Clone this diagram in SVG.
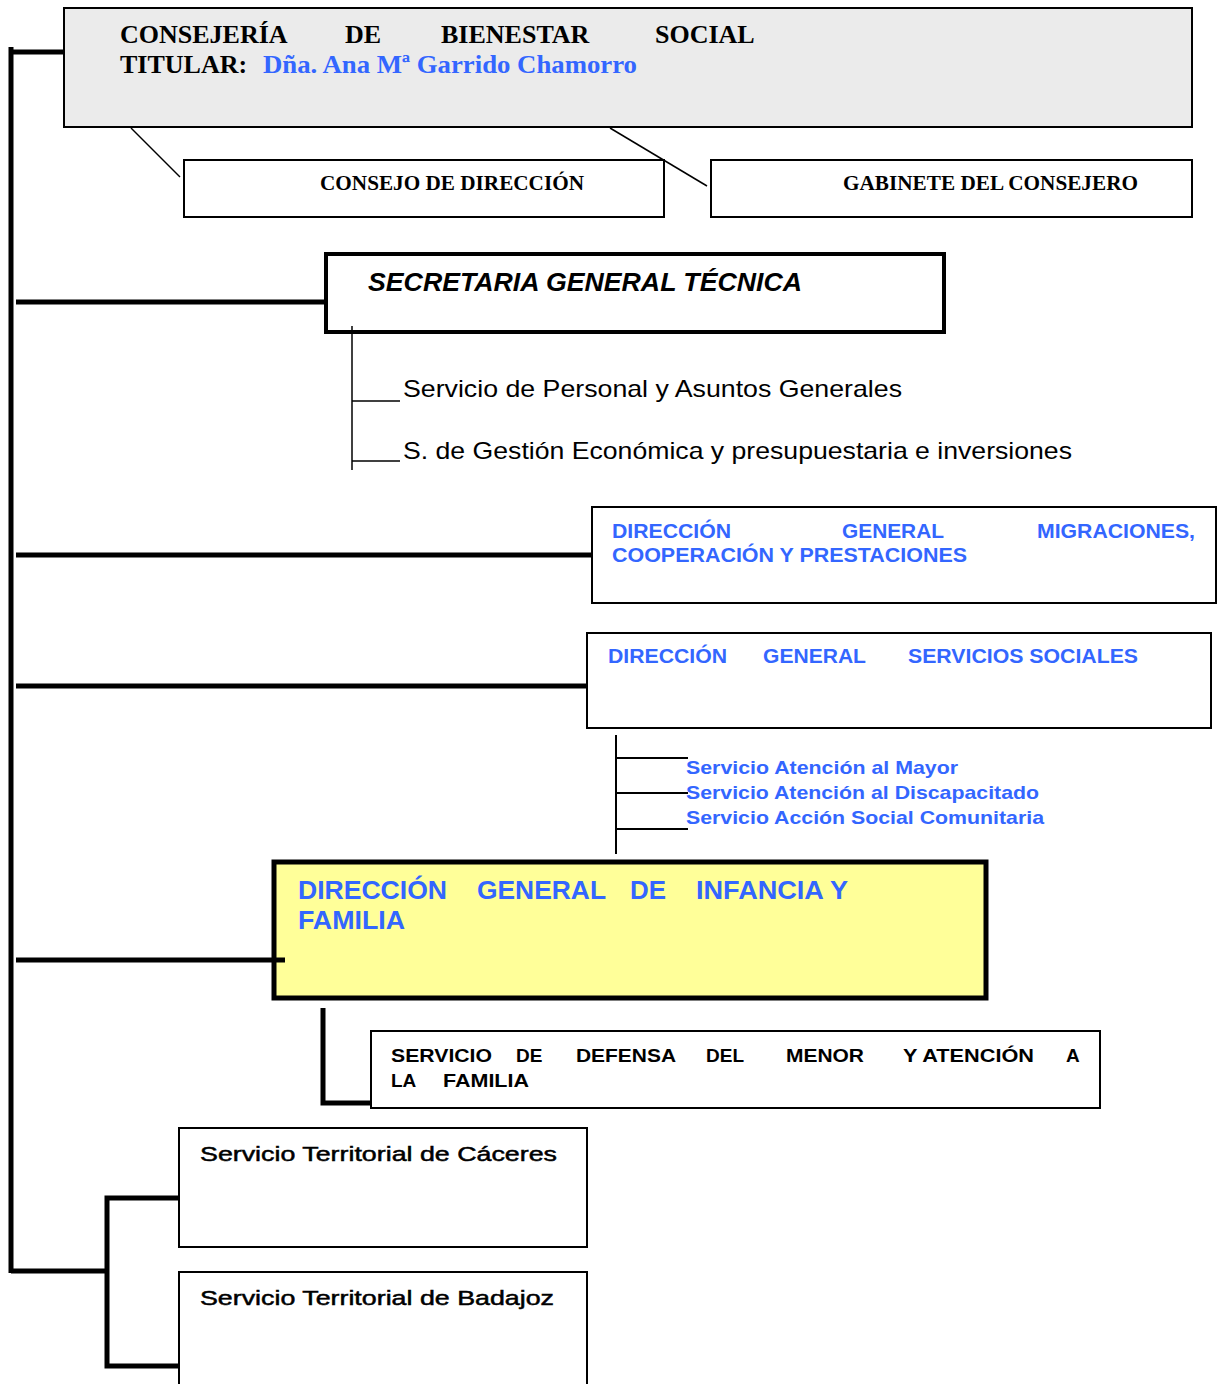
<svg xmlns="http://www.w3.org/2000/svg" width="1220" height="1384" viewBox="0 0 1220 1384">
<style>
.box{fill:#fff;stroke:#000;stroke-width:2}
.thick{fill:none;stroke:#000;stroke-width:5}
.thin{fill:none;stroke:#000;stroke-width:1.5}
.tb{font-family:"Liberation Serif",serif;font-weight:bold;fill:#000}
.ab{font-family:"Liberation Sans",Arial,sans-serif;font-weight:bold}
.ar{font-family:"Liberation Sans",Arial,sans-serif}
.blue{fill:#3366ff}
.blk{fill:#000}
.terr{stroke:#000;stroke-width:0.5}
</style>
<rect width="1220" height="1384" fill="#fff"/>
<g id="consejeria">
<rect x="64" y="8" width="1128" height="119" fill="#ebebeb" stroke="#000" stroke-width="2"/>
<text class="tb" font-size="26" x="120" y="43">CONSEJERÍA</text>
<text class="tb" font-size="26" x="345" y="43">DE</text>
<text class="tb" font-size="26" x="441" y="43">BIENESTAR</text>
<text class="tb" font-size="26" x="655" y="43">SOCIAL</text>
<text class="tb" font-size="26" x="120" y="73">TITULAR:</text>
<text class="tb" font-size="26" x="263" y="73" style="fill:#3366ff" textLength="374" lengthAdjust="spacingAndGlyphs">Dña. Ana Mª Garrido Chamorro</text>
</g>
<g id="consejo">
<rect class="box" x="184" y="160" width="480" height="57"/>
<text class="tb" font-size="20" x="320" y="190" textLength="264" lengthAdjust="spacingAndGlyphs">CONSEJO DE DIRECCIÓN</text>
</g>
<g id="gabinete">
<rect class="box" x="711" y="160" width="481" height="57"/>
<text class="tb" font-size="20" x="843" y="190" textLength="295" lengthAdjust="spacingAndGlyphs">GABINETE DEL CONSEJERO</text>
</g>
<g id="secretaria">
<rect x="326" y="254" width="618" height="78" fill="#fff" stroke="#000" stroke-width="4"/>
<text class="ab blk" font-size="26" font-style="italic" x="368" y="291" textLength="434" lengthAdjust="spacingAndGlyphs">SECRETARIA GENERAL TÉCNICA</text>
</g>
<g id="servicio-personal">
<text class="ar blk" font-size="24" x="403" y="397" textLength="499" lengthAdjust="spacingAndGlyphs">Servicio de Personal y Asuntos Generales</text>
</g>
<g id="servicio-gestion">
<text class="ar blk" font-size="24" x="403" y="459" textLength="669" lengthAdjust="spacingAndGlyphs">S. de Gestión Económica y presupuestaria e inversiones</text>
</g>
<g id="dg-migraciones">
<rect class="box" x="592" y="507" width="624" height="96"/>
<text class="ab blue" font-size="20" x="612" y="538" textLength="119" lengthAdjust="spacingAndGlyphs">DIRECCIÓN</text>
<text class="ab blue" font-size="20" x="842" y="538" textLength="102" lengthAdjust="spacingAndGlyphs">GENERAL</text>
<text class="ab blue" font-size="20" x="1037" y="538" textLength="158" lengthAdjust="spacingAndGlyphs">MIGRACIONES,</text>
<text class="ab blue" font-size="20" x="612" y="562" textLength="355" lengthAdjust="spacingAndGlyphs">COOPERACIÓN Y PRESTACIONES</text>
</g>
<g id="dg-servicios-sociales">
<rect class="box" x="587" y="633" width="624" height="95"/>
<text class="ab blue" font-size="20" x="608" y="663" textLength="119" lengthAdjust="spacingAndGlyphs">DIRECCIÓN</text>
<text class="ab blue" font-size="20" x="763" y="663" textLength="103" lengthAdjust="spacingAndGlyphs">GENERAL</text>
<text class="ab blue" font-size="20" x="908" y="663" textLength="230" lengthAdjust="spacingAndGlyphs">SERVICIOS SOCIALES</text>
</g>
<g id="servicio-mayor">
<text class="ab blue" font-size="19" x="686" y="774" textLength="272" lengthAdjust="spacingAndGlyphs">Servicio Atención al Mayor</text>
</g>
<g id="servicio-discapacitado">
<text class="ab blue" font-size="19" x="686" y="799" textLength="353" lengthAdjust="spacingAndGlyphs">Servicio Atención al Discapacitado</text>
</g>
<g id="servicio-accion-social">
<text class="ab blue" font-size="19" x="686" y="824" textLength="358" lengthAdjust="spacingAndGlyphs">Servicio Acción Social Comunitaria</text>
</g>
<g id="dg-infancia">
<rect x="274" y="862" width="712" height="136" fill="#ffff99" stroke="#000" stroke-width="5"/>
<text class="ab blue" font-size="26" x="298" y="899" textLength="149" lengthAdjust="spacingAndGlyphs">DIRECCIÓN</text>
<text class="ab blue" font-size="26" x="477" y="899" textLength="129" lengthAdjust="spacingAndGlyphs">GENERAL</text>
<text class="ab blue" font-size="26" x="630" y="899" textLength="36" lengthAdjust="spacingAndGlyphs">DE</text>
<text class="ab blue" font-size="26" x="696" y="899" textLength="152" lengthAdjust="spacingAndGlyphs">INFANCIA Y</text>
<text class="ab blue" font-size="26" x="298" y="929" textLength="107" lengthAdjust="spacingAndGlyphs">FAMILIA</text>
</g>
<g id="servicio-defensa">
<rect class="box" x="371" y="1031" width="729" height="77"/>
<text class="ab blk" font-size="19" x="391" y="1062" textLength="101" lengthAdjust="spacingAndGlyphs">SERVICIO</text>
<text class="ab blk" font-size="19" x="516" y="1062">DE</text>
<text class="ab blk" font-size="19" x="576" y="1062" textLength="100" lengthAdjust="spacingAndGlyphs">DEFENSA</text>
<text class="ab blk" font-size="19" x="706" y="1062">DEL</text>
<text class="ab blk" font-size="19" x="786" y="1062" textLength="78" lengthAdjust="spacingAndGlyphs">MENOR</text>
<text class="ab blk" font-size="19" x="903" y="1062" textLength="131" lengthAdjust="spacingAndGlyphs">Y ATENCIÓN</text>
<text class="ab blk" font-size="19" x="1066" y="1062">A</text>
<text class="ab blk" font-size="19" x="391" y="1087">LA</text>
<text class="ab blk" font-size="19" x="443" y="1087" textLength="86" lengthAdjust="spacingAndGlyphs">FAMILIA</text>
</g>
<g id="territorial-caceres">
<rect class="box" x="179" y="1128" width="408" height="119"/>
<text class="ar blk terr" font-size="21" x="200" y="1161" textLength="357" lengthAdjust="spacingAndGlyphs">Servicio Territorial de Cáceres</text>
</g>
<g id="territorial-badajoz">
<rect class="box" x="179" y="1272" width="408" height="130"/>
<text class="ar blk terr" font-size="21" x="200" y="1305" textLength="354" lengthAdjust="spacingAndGlyphs">Servicio Territorial de Badajoz</text>
</g>
<g id="connectors">
<line class="thick" x1="11" y1="47" x2="11" y2="1273"/>
<line class="thick" x1="11" y1="52" x2="64" y2="52"/>
<line class="thin" x1="131" y1="128" x2="180" y2="177"/>
<line class="thin" x1="610" y1="128" x2="707" y2="186"/>
<line class="thick" x1="16" y1="302" x2="326" y2="302"/>
<line class="thin" x1="352" y1="326" x2="352" y2="470"/>
<line class="thin" x1="352" y1="401" x2="400" y2="401"/>
<line class="thin" x1="352" y1="461" x2="400" y2="461"/>
<line class="thick" x1="16" y1="555" x2="592" y2="555"/>
<line class="thick" x1="16" y1="686" x2="587" y2="686"/>
<line class="thin" x1="616" y1="735" x2="616" y2="854" style="stroke-width:2"/>
<line class="thin" x1="616" y1="758" x2="688" y2="758" style="stroke-width:2"/>
<line class="thin" x1="616" y1="793" x2="688" y2="793" style="stroke-width:2"/>
<line class="thin" x1="616" y1="829" x2="688" y2="829" style="stroke-width:2"/>
<line class="thick" x1="16" y1="960" x2="285" y2="960"/>
<polyline class="thick" points="323,1008 323,1103 371,1103"/>
<line class="thick" x1="11" y1="1271" x2="107" y2="1271"/>
<polyline class="thick" points="179,1198 107,1198 107,1366 179,1366"/>
</g>
</svg>
